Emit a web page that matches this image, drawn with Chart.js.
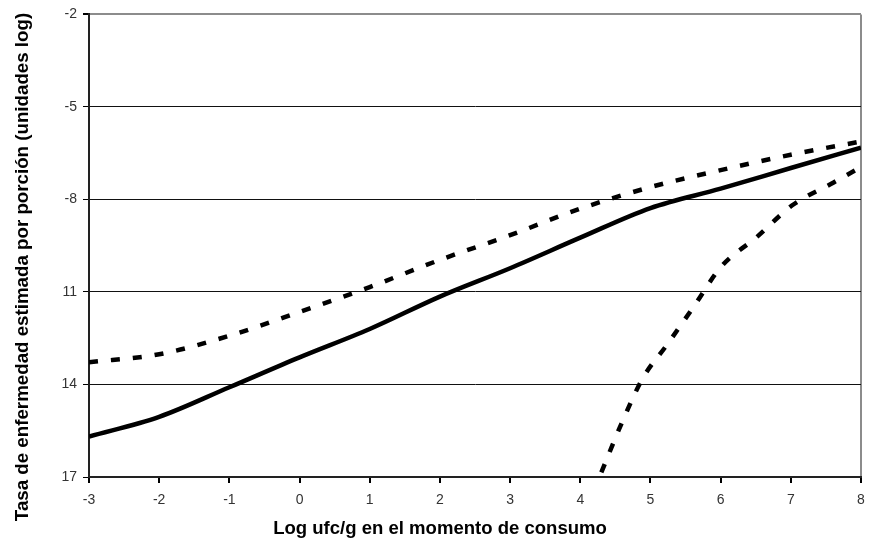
<!DOCTYPE html>
<html>
<head>
<meta charset="utf-8">
<script src="https://cdn.jsdelivr.net/npm/chart.js@4.4.0/dist/chart.umd.min.js"></script>
<style>
  body { margin: 0; background: #fff; }
  #wrap { width: 869px; height: 540px; }
</style>
</head>
<body>
<div id="wrap"><canvas id="chart" width="869" height="540"></canvas></div>
<script>
// x positions (Log ufc/g)
const xValues = [-3, -2, -1, 0, 1, 2, 3, 4, 5, 6, 7, 8];
// solid line
const solidValues = [-15.69, -15.05, -14.09, -13.12, -12.2, -11.15, -10.23, -9.24, -8.28, -7.65, -6.98, -6.32];
// upper dashed line
const upperValues = [-13.28, -13.02, -12.42, -11.65, -10.84, -9.96, -9.16, -8.3, -7.6, -7.05, -6.55, -6.12];
// lower dashed line (starts near x = 4.3)
const lowerX = [4.3, 4.6, 4.89, 5.24, 5.63, 6.0, 6.53, 7.02, 7.61, 8];
const lowerValues = [-16.85, -15.2, -13.8, -12.7, -11.43, -10.2, -9.19, -8.19, -7.45, -6.95];

// tick labels as printed on the original
const yTickValues = [-17, -14, -11, -8, -5, -2];
const yTickLabels = ["17", "14", "11", "-8", "-5", "-2"];

const xTitle = "Log ufc/g en el momento de consumo";
const yTitle = "Tasa de enfermedad estimada por porción (unidades log)";

const FONT = "'Liberation Sans', Arial, sans-serif";

const toPoints = (xs, ys) => xs.map((x, i) => ({ x: x, y: ys[i] }));

const lineStyle = {
  borderColor: "#000",
  borderWidth: 4.5,
  pointRadius: 0,
  fill: false,
  cubicInterpolationMode: "monotone",
  borderCapStyle: "butt"
};

// ===== axis titles drawn by hand (off-centre like the original) =====
const titlesPlugin = {
  id: "titles",
  afterDraw(chart) {
    const ctx = chart.ctx;
    ctx.save();
    ctx.fillStyle = "#000";
    ctx.textAlign = "center";
    ctx.textBaseline = "middle";
    ctx.font = "bold 18px " + FONT;
    ctx.save();
    ctx.translate(440, 529);
    ctx.scale(1.03, 1);
    ctx.fillText(xTitle, 0, 0);
    ctx.restore();
    ctx.translate(23, 267);
    ctx.rotate(-Math.PI / 2);
    ctx.scale(1.04, 1);
    ctx.fillText(yTitle, 0, 0);
    ctx.restore();
  }
};

new Chart(document.getElementById("chart").getContext("2d"), {
  type: "line",
  data: {
    datasets: [
      Object.assign({ label: "solid", data: toPoints(xValues, solidValues) }, lineStyle),
      Object.assign({ label: "upper", data: toPoints(xValues, upperValues), borderDash: [9, 13] }, lineStyle),
      Object.assign({ label: "lower", data: toPoints(lowerX, lowerValues), borderDash: [9, 13] }, lineStyle)
    ]
  },
  options: {
    responsive: false,
    animation: false,
    layout: { padding: { left: 0, right: 8, top: 12, bottom: 0 } },
    plugins: {
      legend: { display: false },
      tooltip: { enabled: false }
    },
    scales: {
      x: {
        type: "linear",
        min: -3,
        max: 8,
        ticks: { stepSize: 1, color: "#333", padding: 9, font: { family: FONT, size: 14 } },
        grid: {
          drawOnChartArea: true,
          color: c => (c.tick && c.tick.value === 8 ? "#8c8c8c" : "rgba(0,0,0,0)"),
          lineWidth: 2,
          tickLength: 6,
          tickColor: "#000"
        },
        border: { color: "#222", width: 2 },
        afterFit: s => { s.height = 63; s.paddingLeft = 0; s.paddingRight = 0; }
      },
      y: {
        min: -17,
        max: -2,
        afterBuildTicks: s => { s.ticks = yTickValues.map(v => ({ value: v })); },
        ticks: {
          color: "#333",
          padding: 6,
          font: { family: FONT, size: 14 },
          callback: v => yTickLabels[yTickValues.indexOf(v)]
        },
        grid: {
          color: c => (c.tick && c.tick.value === -2 ? "#8c8c8c" : "#111"),
          lineWidth: c => (c.tick && c.tick.value === -2 ? 2 : 1),
          tickLength: 6,
          tickColor: "#000"
        },
        border: { color: "#222", width: 2 },
        afterFit: s => { s.width = 89; }
      }
    }
  },
  plugins: [titlesPlugin]
});
</script>
</body>
</html>
